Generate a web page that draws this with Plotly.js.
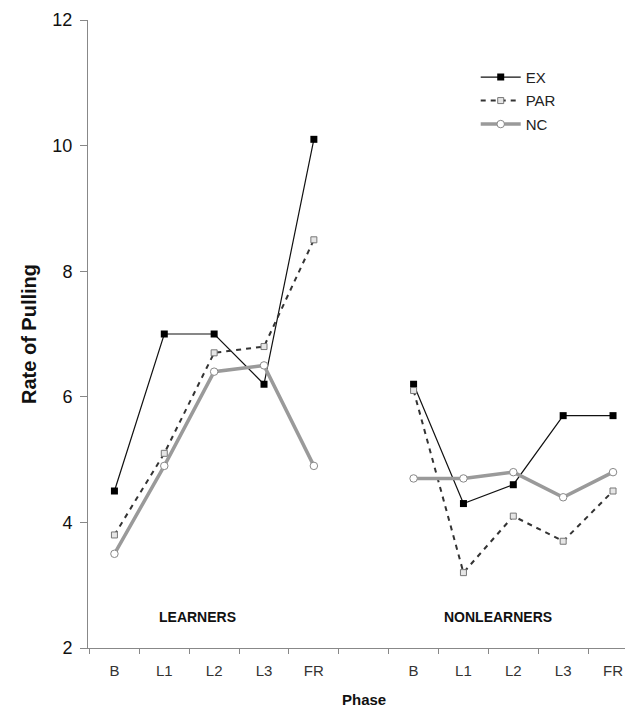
<!DOCTYPE html>
<html>
<head>
<meta charset="utf-8">
<script src="https://cdn.plot.ly/plotly-3.0.1.min.js"></script>
<style>html,body{margin:0;padding:0;background:#fff;overflow:hidden}</style>
</head>
<body>
<div id="chart" style="width:625px;height:710px"></div>
<script>
// Phase categories (two groups, gap slot between them)
const phases = ["B", "L1", "L2", "L3", "FR"];
const learnerPos = [1, 2, 3, 4, 5];
const nonlearnerPos = [7, 8, 9, 10, 11];
const boundaryTicks = [0.5, 1.5, 2.5, 3.5, 4.5, 5.5, 6.5, 7.5, 8.5, 9.5, 10.5, 11.5];

// Series values: Learners
const exLearners  = [4.5, 7.0, 7.0, 6.2, 10.1];
const parLearners = [3.8, 5.1, 6.7, 6.8, 8.5];
const ncLearners  = [3.5, 4.9, 6.4, 6.5, 4.9];
// Series values: Nonlearners
const exNon  = [6.2, 4.3, 4.6, 5.7, 5.7];
const parNon = [6.1, 3.2, 4.1, 3.7, 4.5];
const ncNon  = [4.7, 4.7, 4.8, 4.4, 4.8];

const yTicks = [2, 4, 6, 8, 10, 12];

const exStyle = {mode: 'lines+markers', line: {color: '#111', width: 1.2},
  marker: {symbol: 'square', size: 7, color: '#000'}};
const parStyle = {mode: 'lines+markers', line: {color: '#333', width: 2, dash: '5px,5px'},
  marker: {symbol: 'square', size: 6, color: '#e6e6e6', line: {color: '#777', width: 1}}};
const ncStyle = {mode: 'lines+markers', line: {color: '#9a9a9a', width: 3.5},
  marker: {symbol: 'circle', size: 7.5, color: '#fff', line: {color: '#888', width: 1}}};

function tr(style, x, y, name, show) {
  return Object.assign({}, style, {x: x, y: y, name: name, showlegend: show, legendgroup: name});
}

const data = [
  tr(exStyle, learnerPos, exLearners, 'EX', true),
  tr(parStyle, learnerPos, parLearners, 'PAR', true),
  tr(ncStyle, learnerPos, ncLearners, 'NC', true),
  tr(exStyle, nonlearnerPos, exNon, 'EX', false),
  tr(parStyle, nonlearnerPos, parNon, 'PAR', false),
  tr(ncStyle, nonlearnerPos, ncNon, 'NC', false)
];

const layout = {
  width: 625, height: 710,
  margin: {l: 88, r: 0, t: 20, b: 62},
  paper_bgcolor: '#fff', plot_bgcolor: '#fff',
  font: {family: 'Arial, Liberation Sans, sans-serif', color: '#222'},
  showlegend: true,
  legend: {x: 0.722, y: 0.935, xanchor: 'left', yanchor: 'top', itemwidth: 40,
    font: {size: 15, color: '#222'}, bgcolor: 'rgba(0,0,0,0)', tracegroupgap: 1},
  xaxis: {
    range: [0.47, 11.24], zeroline: false, showgrid: false,
    showline: true, linecolor: '#888', linewidth: 1,
    tickmode: 'array',
    tickvals: learnerPos.concat(nonlearnerPos),
    ticktext: phases.concat(phases),
    ticks: '', tickfont: {size: 15, color: '#333'}, ticklabelstandoff: 9,
    minor: {tickmode: 'array', tickvals: boundaryTicks, ticks: 'outside', ticklen: 5, tickcolor: '#888', showgrid: false}
  },
  yaxis: {
    range: [2, 12], zeroline: false, showgrid: false,
    showline: true, linecolor: '#888', linewidth: 1,
    tickmode: 'array', tickvals: yTicks,
    ticks: 'outside', ticklen: 7, tickcolor: '#888',
    tickfont: {size: 18, color: '#111'}, ticklabelstandoff: 4,
    title: {text: '<b>Rate of Pulling</b>', font: {size: 20, color: '#111'}, standoff: 10}
  },
  annotations: [
    {text: '<b>LEARNERS</b>', x: 2.67, y: 2.49, xref: 'x', yref: 'y', showarrow: false,
      font: {size: 14, color: '#111'}},
    {text: '<b>NONLEARNERS</b>', x: 8.7, y: 2.49, xref: 'x', yref: 'y', showarrow: false,
      font: {size: 14, color: '#111'}},
    {text: '<b>Phase</b>', x: 6, y: -0.066, xref: 'x', yref: 'paper', yanchor: 'top', showarrow: false,
      font: {size: 15, color: '#111'}}
  ]
};

Plotly.newPlot('chart', data, layout, {displayModeBar: false, staticPlot: true});
</script>
</body>
</html>
